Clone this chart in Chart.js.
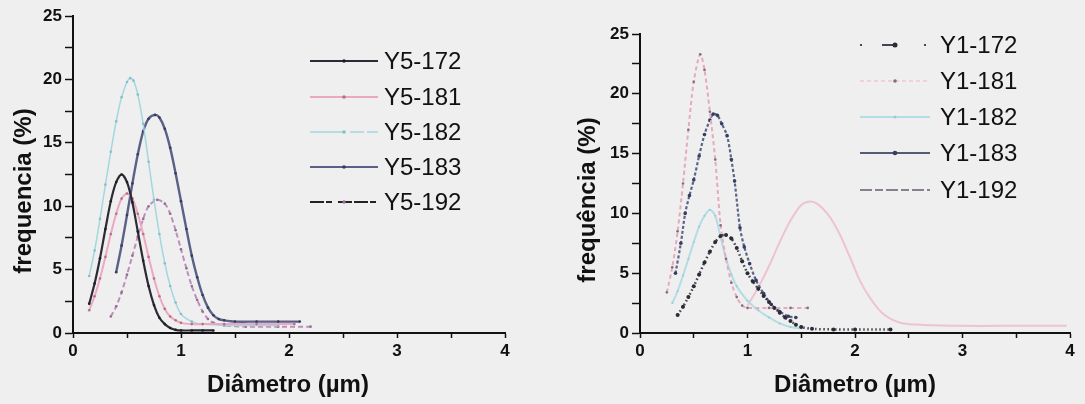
<!DOCTYPE html>
<html>
<head>
<meta charset="utf-8">
<title>Distribuição de diâmetros</title>
<script src="https://cdn.jsdelivr.net/npm/chart.js@4/dist/chart.umd.min.js"></script>
<style>
  html, body { margin: 0; padding: 0; background: #efefef; }
  #wrap { position: relative; width: 1085px; height: 404px; background: #efefef; overflow: hidden; }
  .panel { position: absolute; top: 0; height: 404px; }
  #left { left: 6px; width: 534px; }
  #right { left: 570px; width: 515px; }
</style>
</head>
<body>
<div id="wrap">
  <div class="panel" id="left"><canvas id="chartY5" width="534" height="404"></canvas></div>
  <div class="panel" id="right"><canvas id="chartY1" width="515" height="404"></canvas></div>
</div>
<script>
// --- Amostras Y5 (diâmetro em µm, frequência em %) ---
const y5_172_x = [0.15, 0.2, 0.25, 0.3, 0.35, 0.4, 0.45, 0.5, 0.55, 0.6, 0.65, 0.7, 0.75, 0.8, 0.85, 0.9, 0.95, 1.0, 1.1, 1.2, 1.3];
const y5_172_y = [2.3, 3.9, 5.9, 8.2, 10.4, 11.9, 12.5, 11.9, 10.3, 8.0, 5.7, 3.7, 2.2, 1.2, 0.7, 0.4, 0.25, 0.2, 0.2, 0.2, 0.2];

const y5_181_x = [0.15, 0.2, 0.25, 0.3, 0.35, 0.4, 0.45, 0.5, 0.55, 0.6, 0.65, 0.7, 0.75, 0.8, 0.85, 0.9, 0.95, 1.0, 1.1, 1.2, 1.4, 1.7, 2.05];
const y5_181_y = [1.8, 2.9, 4.3, 6.0, 7.8, 9.4, 10.6, 11.0, 10.6, 9.4, 7.8, 6.0, 4.3, 2.9, 1.9, 1.3, 1.0, 0.8, 0.7, 0.7, 0.7, 0.7, 0.7];

const y5_182_x = [0.15, 0.2, 0.25, 0.3, 0.35, 0.4, 0.45, 0.5, 0.53, 0.56, 0.6, 0.65, 0.7, 0.75, 0.8, 0.85, 0.9, 0.95, 1.0, 1.1, 1.2, 1.4, 1.9];
const y5_182_y = [4.5, 6.5, 9.0, 11.7, 14.3, 16.7, 18.6, 19.8, 20.1, 19.9, 18.8, 16.5, 13.5, 10.5, 7.8, 5.5, 3.7, 2.4, 1.5, 0.9, 0.7, 0.6, 0.6];

const y5_183_x = [0.4, 0.45, 0.5, 0.55, 0.6, 0.65, 0.7, 0.76, 0.8, 0.85, 0.9, 0.95, 1.0, 1.05, 1.1, 1.15, 1.2, 1.25, 1.3, 1.35, 1.4, 1.5, 1.7, 1.9, 2.1];
const y5_183_y = [4.8, 6.9, 9.3, 11.8, 14.1, 15.9, 16.9, 17.2, 17.0, 16.1, 14.6, 12.6, 10.4, 8.2, 6.1, 4.4, 3.0, 2.0, 1.4, 1.1, 1.0, 0.9, 0.9, 0.9, 0.9];

const y5_192_x = [0.35, 0.4, 0.45, 0.5, 0.55, 0.6, 0.65, 0.7, 0.78, 0.85, 0.9, 0.95, 1.0, 1.05, 1.1, 1.15, 1.2, 1.25, 1.3, 1.4, 1.6, 1.9, 2.2];
const y5_192_y = [1.3, 2.1, 3.2, 4.6, 6.1, 7.6, 9.0, 10.0, 10.5, 10.2, 9.4, 8.1, 6.6, 5.1, 3.7, 2.6, 1.7, 1.1, 0.8, 0.6, 0.5, 0.5, 0.5];

// --- Amostras Y1 ---
const y1_172_x = [0.35, 0.4, 0.45, 0.5, 0.55, 0.6, 0.65, 0.7, 0.75, 0.8, 0.85, 0.9, 0.95, 1.0, 1.05, 1.1, 1.15, 1.2, 1.25, 1.3, 1.35, 1.4, 1.45, 1.5, 1.6, 1.8, 2.0, 2.33];
const y1_172_y = [1.5, 2.2, 3.0, 3.9, 4.9, 5.9, 6.8, 7.6, 8.1, 8.2, 7.9, 7.1, 6.0, 5.0, 4.3, 3.7, 3.1, 2.6, 2.1, 1.7, 1.3, 1.0, 0.7, 0.5, 0.35, 0.3, 0.3, 0.3];

const y1_181_x = [0.25, 0.3, 0.35, 0.4, 0.45, 0.5, 0.56, 0.6, 0.65, 0.7, 0.75, 0.8, 0.85, 0.9, 0.95, 1.0, 1.2, 1.4, 1.56];
const y1_181_y = [3.4, 5.5, 8.5, 12.5, 17.0, 21.0, 23.3, 22.0, 18.5, 14.5, 9.0, 6.2, 4.2, 3.0, 2.3, 2.1, 2.1, 2.1, 2.1];

const y1_182_x = [0.3, 0.35, 0.4, 0.45, 0.5, 0.55, 0.6, 0.65, 0.7, 0.75, 0.8, 0.85, 0.9, 1.0, 1.1, 1.2, 1.3, 1.4, 1.5];
const y1_182_y = [2.5, 3.5, 4.8, 6.2, 7.6, 8.9, 9.8, 10.3, 9.8, 8.0, 6.2, 4.9, 3.9, 2.7, 1.9, 1.3, 0.8, 0.5, 0.4];

const y1_183_x = [0.33, 0.38, 0.42, 0.46, 0.5, 0.55, 0.6, 0.65, 0.68, 0.72, 0.76, 0.81, 0.85, 0.88, 0.93, 0.97, 1.02, 1.08, 1.15, 1.22, 1.3, 1.38, 1.45];
const y1_183_y = [5.0, 7.5, 10.0, 11.5, 12.8, 14.8, 16.6, 17.8, 18.3, 18.2, 17.5, 16.5, 14.5, 12.7, 8.8, 7.2, 5.8, 4.4, 3.3, 2.4, 1.8, 1.4, 1.3];

const y1_192_x = [1.0, 1.1, 1.2, 1.3, 1.4, 1.5, 1.58, 1.65, 1.75, 1.85, 1.95, 2.05, 2.15, 2.25, 2.35, 2.45, 2.6, 3.0, 3.5, 3.97];
const y1_192_y = [2.3, 3.8, 5.6, 7.6, 9.4, 10.7, 11.0, 10.8, 9.9, 8.4, 6.4, 4.3, 2.8, 1.7, 1.1, 0.8, 0.7, 0.6, 0.6, 0.6];

// eixos
const xTicks = [0, 1, 2, 3, 4];
const yTicks = [0, 5, 10, 15, 20, 25];

function pts(xs, ys) {
    return xs.map(function(x, i) { return { x: x, y: ys[i] }; });
}

// desenha legenda e títulos dos eixos em posições fixas do painel
const panelDecor = {
    id: 'panelDecor',
    afterDraw: function(chart, args, opts) {
        const ctx = chart.ctx;
        ctx.save();

        chart.data.datasets.forEach(function(ds, i) {
            const y = opts.rows[i];
            ctx.setLineDash(ds.legendDash || ds.borderDash || []);
            ctx.strokeStyle = ds.legendColor || ds.borderColor;
            ctx.lineWidth = Math.min(ds.borderWidth, 2);
            ctx.beginPath();
            ctx.moveTo(opts.lineX0, y);
            ctx.lineTo(opts.lineX1, y);
            ctx.stroke();
            ctx.setLineDash([]);
            if (ds.pointRadius > 0) {
                ctx.fillStyle = ds.pointBackgroundColor;
                ctx.beginPath();
                ctx.arc((opts.lineX0 + opts.lineX1) / 2, y, ds.pointRadius + 0.5, 0, Math.PI * 2);
                ctx.fill();
            }
            ctx.fillStyle = '#111';
            ctx.font = '24px "Liberation Sans", Arial, sans-serif';
            ctx.textAlign = 'left';
            ctx.textBaseline = 'middle';
            ctx.fillText(ds.label, opts.textX, y + 1);
        });

        ctx.fillStyle = '#111';
        ctx.font = 'bold 24px "Liberation Sans", Arial, sans-serif';
        ctx.textAlign = 'center';
        ctx.textBaseline = 'middle';
        ctx.fillText(opts.xTitle.text, opts.xTitle.x, opts.xTitle.y);

        ctx.translate(opts.yTitle.x, opts.yTitle.y);
        ctx.rotate(-Math.PI / 2);
        ctx.fillText(opts.yTitle.text, 0, 0);
        ctx.restore();
    }
};

function makePanel(canvas, datasets, layout, decor) {
    const tickFont = { family: '"Liberation Sans", Arial, sans-serif', size: 17, weight: 'bold' };
    return new Chart(canvas.getContext('2d'), {
        type: 'scatter',
        data: { datasets: datasets },
        plugins: [panelDecor],
        options: {
            responsive: false,
            animation: false,
            layout: { padding: layout.padding, autoPadding: false },
            plugins: {
                legend: { display: false },
                tooltip: { enabled: false },
                panelDecor: decor
            },
            scales: {
                x: {
                    type: 'linear',
                    min: xTicks[0],
                    max: xTicks[xTicks.length - 1],
                    afterFit: function(scale) { scale.height = layout.xHeight; },
                    ticks: {
                        stepSize: 0.5,
                        autoSkip: false,
                        maxRotation: 0,
                        padding: 3,
                        color: '#111',
                        font: tickFont,
                        callback: function(v) { return xTicks.indexOf(v) >= 0 ? String(v) : ''; }
                    },
                    grid: { drawOnChartArea: false, drawTicks: true, tickLength: 5, tickColor: '#111', tickWidth: 1.5 },
                    border: { display: true, color: '#111', width: 2 }
                },
                y: {
                    type: 'linear',
                    min: yTicks[0],
                    max: yTicks[yTicks.length - 1],
                    afterFit: function(scale) { scale.width = layout.yWidth; },
                    ticks: {
                        stepSize: 2.5,
                        autoSkip: false,
                        padding: 3,
                        color: '#111',
                        font: tickFont,
                        callback: function(v) { return yTicks.indexOf(v) >= 0 ? String(v) : ''; }
                    },
                    grid: { drawOnChartArea: false, drawTicks: true, tickLength: 8, tickColor: '#111', tickWidth: 1.5 },
                    border: { display: true, color: '#111', width: 2 }
                }
            }
        }
    });
}

function series(label, xs, ys, style) {
    return Object.assign({
        label: label,
        data: pts(xs, ys),
        showLine: true,
        tension: 0.3,
        borderWidth: 1.5,
        pointRadius: 1.3,
        pointBorderWidth: 0
    }, style);
}

document.addEventListener('DOMContentLoaded', function() {
    makePanel(document.getElementById('chartY5'), [
        series('Y5-172', y5_172_x, y5_172_y, { borderColor: '#2b2b36', pointBackgroundColor: '#1d1d26', borderWidth: 2.2 }),
        series('Y5-181', y5_181_x, y5_181_y, { borderColor: '#eaa9c0', pointBackgroundColor: '#b86d8c', borderWidth: 2 }),
        series('Y5-182', y5_182_x, y5_182_y, { borderColor: '#a3d7e0', pointBackgroundColor: '#85bfcb', legendDash: [34, 6, 14, 3] }),
        series('Y5-183', y5_183_x, y5_183_y, { borderColor: '#5b6087', pointBackgroundColor: '#363a60', borderWidth: 2.4 }),
        series('Y5-192', y5_192_x, y5_192_y, { borderColor: '#bd8fbc', pointBackgroundColor: '#9a6a98', borderDash: [5, 3], borderWidth: 2, legendColor: '#222', legendDash: [14, 2, 6, 6, 14, 2] })
    ], {
        padding: { left: 0, right: 35, top: 16, bottom: 0 },
        yWidth: 67,
        xHeight: 71
    }, {
        lineX0: 304, lineX1: 372, textX: 378,
        rows: [61, 97, 132, 167, 202],
        xTitle: { text: 'Diâmetro (µm)', x: 282, y: 385 },
        yTitle: { text: 'frequencia (%)', x: 18, y: 191 }
    });

    makePanel(document.getElementById('chartY1'), [
        series('Y1-172', y1_172_x, y1_172_y, { borderColor: 'rgba(40,40,52,0.85)', pointBackgroundColor: '#2c2c38', pointRadius: 2, borderWidth: 2.5, borderDash: [1.5, 2.5], legendDash: [2, 20, 12, 30] }),
        series('Y1-181', y1_181_x, y1_181_y, { borderColor: '#e7a9bf', pointBackgroundColor: '#80707e', borderDash: [4, 3], borderWidth: 2, legendColor: '#f0d0dc' }),
        series('Y1-182', y1_182_x, y1_182_y, { borderColor: '#b3dde6', pointBackgroundColor: '#97cbd7', pointRadius: 1, borderWidth: 2 }),
        series('Y1-183', y1_183_x, y1_183_y, { borderColor: '#5c6488', pointBackgroundColor: '#383e5f', pointRadius: 1.8, borderWidth: 2.2, borderDash: [3, 2], legendColor: '#555a75', legendDash: [] }),
        series('Y1-192', y1_192_x, y1_192_y, { borderColor: '#efc2d3', pointBackgroundColor: '#e4a9bf', pointRadius: 0, borderWidth: 2, legendColor: '#8a7f8d', legendDash: [12, 3, 8, 3] })
    ], {
        padding: { left: 0, right: 15, top: 34, bottom: 0 },
        yWidth: 70,
        xHeight: 71
    }, {
        lineX0: 290, lineX1: 360, textX: 370,
        rows: [45, 81, 117, 153, 190],
        xTitle: { text: 'Diâmetro (µm)', x: 285, y: 385 },
        yTitle: { text: 'frequência (%)', x: 18, y: 200 }
    });
});
</script>
</body>
</html>
